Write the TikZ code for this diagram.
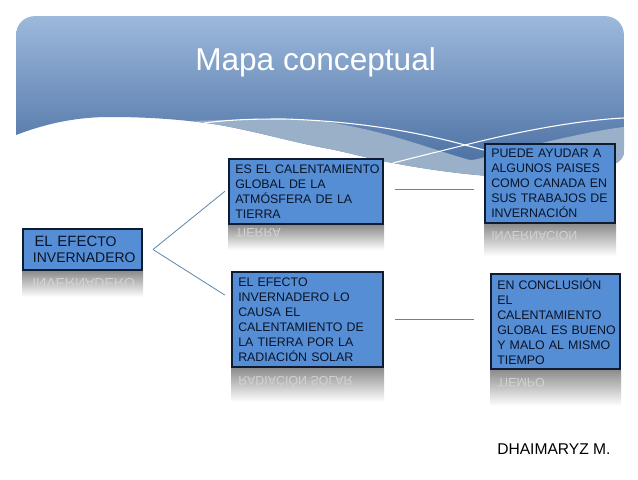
\documentclass[tikz,border=0pt]{standalone}
\usepackage{fontspec}
\setmainfont{Liberation Sans}
\usepackage{tikz}
\usetikzlibrary{calc}
\definecolor{azulcaja}{HTML}{558ED5}
\definecolor{bordecaja}{HTML}{0E1B30}
\definecolor{azulclaro}{HTML}{9AAFC8}
\definecolor{azularriba}{HTML}{9DB9DC}
\definecolor{azulabajo}{HTML}{446A9E}
\definecolor{azullinea}{HTML}{5A86AE}
\definecolor{tinta}{HTML}{0A1428}
\tikzset{
  caja/.style={draw=bordecaja,line width=1.4pt,fill=azulcaja,anchor=north west,align=left,
    inner sep=0pt,text=tinta,font=\fontsize{9.3}{11.25}\selectfont,
    execute at begin node={\advance\leftskip by 4.75pt}},
  espejo/.style={anchor=north west,inner sep=0pt,text=gray!35,font=\fontsize{9.3}{11.25}\selectfont},
  sombra/.style={top color=black!45,bottom color=white,draw=none},
  conector/.style={draw=azullinea,line width=0.6pt},
  onda/.style={draw=white,line width=0.8pt}
}
\newcommand{\reflejo}[1]{\scalebox{1}[-1]{#1}}
\begin{document}
\begin{tikzpicture}[x=0.75pt,y=-0.75pt]
\useasboundingbox (0,0) rectangle (638,479);
% fondo de la cabecera
\shade[top color=azularriba,bottom color=azulabajo]
  (16,135) .. controls (50,122) and (80,117) .. (110,117)
  .. controls (145,117) and (175,119) .. (206,123)
  .. controls (245,128) and (290,142) .. (330,149)
  .. controls (350,153) and (375,160) .. (393,163)
  .. controls (425,169) and (460,174) .. (490,176)
  .. controls (540,178) and (590,172) .. (612,165)
  .. controls (620,162) and (624,158) .. (624,150)
  -- (624,36) .. controls (624,24) and (616,16) .. (604,16)
  -- (36,16) .. controls (24,16) and (16,24) .. (16,36) -- cycle;
% ondas
\fill[azulclaro] (192,121) .. controls (197,122) and (202,122) .. (206,123)
  .. controls (245,128) and (290,142) .. (330,149)
  .. controls (350,153) and (375,160) .. (393,163)
  .. controls (425,169) and (460,174) .. (490,176)
  .. controls (540,178) and (590,172) .. (612,165)
  .. controls (620,162) and (624,158) .. (624,150)
  -- (624,127) .. controls (590,131) and (540,143) .. (485,157)
  .. controls (478,159) and (474,160) .. (470,160)
  .. controls (440,152) and (400,136) .. (350,126)
  .. controls (330,122) and (310,119) .. (285,119)
  .. controls (250,119) and (225,120) .. (192,121) -- cycle;
\draw[onda] (204,123) .. controls (235,119) and (260,119) .. (285,119)
  .. controls (350,121) and (410,130) .. (465,145) -- (484,150);
\draw[onda] (393,163) .. controls (420,156) and (445,150) .. (465,145)
  .. controls (520,131) and (580,120) .. (624,118);
\node[anchor=base west,inner sep=0pt,text=white,font=\fontsize{23.7}{28}\selectfont] (titulo) at (195,70) {Mapa conceptual};
% reflejos
\shade[sombra] (22,271) rectangle (143,297);
\shade[sombra] (228,225) rectangle (384,250);
\shade[sombra] (231,368) rectangle (384,402);
\shade[sombra] (484,224) rectangle (616,256);
\shade[sombra] (490,370) rectangle (621,406);
\node[espejo,font=\fontsize{10.5}{12}\selectfont] (rinv) at (32,278) {\reflejo{INVERNADERO}};
\node[espejo] (rtie) at (235,228) {\reflejo{TIERRA}};
\node[espejo] (rrad) at (238,376) {\reflejo{RADIACIÓN SOLAR}};
\node[espejo] (rinn) at (491,231) {\reflejo{INVERNACIÓN}};
\node[espejo] (rtmp) at (497,378) {\reflejo{TIEMPO}};
% cajas
\node[caja,minimum height=30.85pt,text width=89.35pt,font=\fontsize{10.5}{12.5}\selectfont,
  execute at begin node={\advance\leftskip by 2.75pt}] (efecto) at (22,228)
  {\hspace*{1.2pt}{\fontsize{11.2}{12.5}\selectfont EL EFEC}TO\\INVERNADERO};
\node[caja,minimum height=48.85pt,text width=115.6pt] (calor) at (228,158) {ES EL CALENTAMIENTO\\GLOBAL DE LA\\ATMÓSFERA DE LA\\TIERRA};
\node[caja,minimum height=71.35pt,text width=113.35pt] (causa) at (231,271) {EL EFECTO\\INVERNADERO LO\\CAUSA EL\\CALENTAMIENTO DE\\LA TIERRA POR LA\\RADIACIÓN SOLAR};
\node[caja,minimum height=59.35pt,text width=97.6pt] (ayuda) at (484,143) {PUEDE AYUDAR A\\ALGUNOS PAISES\\COMO CANADA EN\\SUS TRABAJOS DE\\INVERNACIÓN};
\node[caja,minimum height=71.35pt,text width=96.85pt] (fin) at (490,273) {EN CONCLUSIÓN\\EL\\CALENTAMIENTO\\GLOBAL ES BUENO\\Y MALO AL MISMO\\TIEMPO};
\node[anchor=base west,inner sep=0pt,font=\fontsize{11.7}{14}\selectfont] (autora) at (497,454) {DHAIMARYZ M.};
% conectores
\draw[conector,shorten >=3pt] ([xshift=7.5pt]efecto.east) -- (calor.178);
\draw[conector,shorten >=5.5pt] ([xshift=7.5pt]efecto.east) -- (causa.165);
\draw[conector] ([xshift=8.25pt,yshift=1.9pt]calor.east) -- ([xshift=-7.5pt,yshift=-4.1pt]ayuda.west);
\draw[conector] ([xshift=8.25pt,yshift=0.4pt]causa.east) -- ([xshift=-12pt,yshift=1.9pt]fin.west);
\end{tikzpicture}
\end{document}
